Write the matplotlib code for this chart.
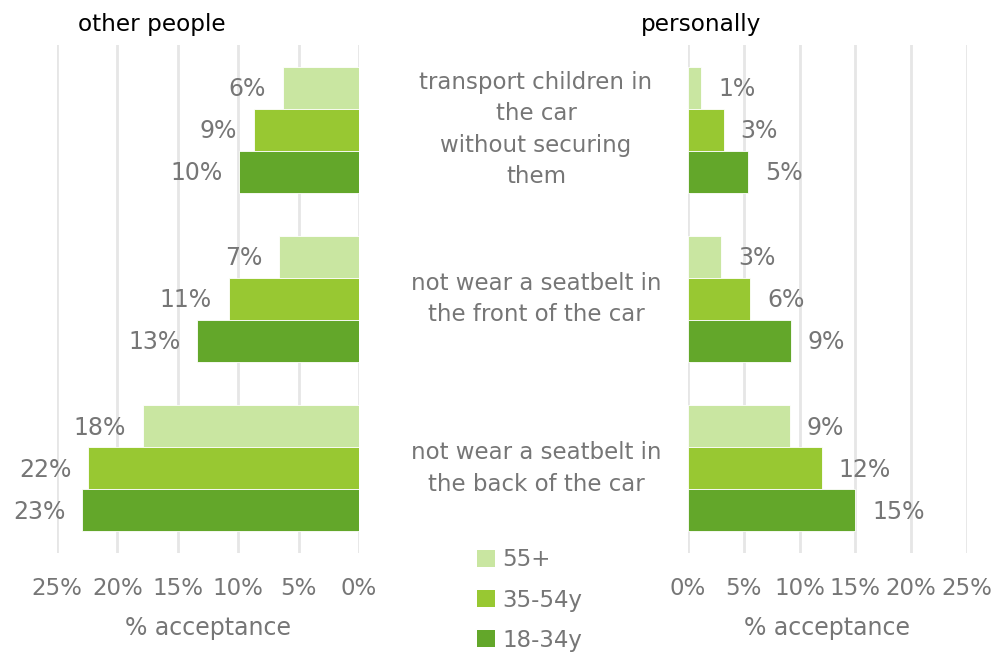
import numpy as np
import matplotlib.pyplot as plt
import matplotlib.transforms as mtransforms
from matplotlib.patches import Patch

# acceptance shares (%), per behaviour, per age group
behaviours = ["transport children in\nthe car\nwithout securing\nthem",
              "not wear a seatbelt in\nthe front of the car",
              "not wear a seatbelt in\nthe back of the car"]
age_groups = ["55+", "35-54y", "18-34y"]
colors = ["#C9E6A1", "#98C832", "#63A72A"]

other_55 = [6.3, 6.6, 17.9]
other_35 = [8.7, 10.8, 22.4]
other_18 = [9.9, 13.4, 22.9]

self_55 = [1.2, 3.0, 9.1]
self_35 = [3.2, 5.6, 12.0]
self_18 = [5.4, 9.2, 15.0]

other = [other_55, other_35, other_18]
personal = [self_55, self_35, self_18]

ticks = [0, 5, 10, 15, 20, 25]
gray = "#767676"

plt.rcParams['font.family'] = ['DejaVu Sans']

fig = plt.figure(figsize=(9.94, 6.52), dpi=100)
axL = fig.add_axes([57/994, 1 - 553/652, (359-57)/994, (553-45)/652])
axR = fig.add_axes([688/994, 1 - 553/652, (967-688)/994, (553-45)/652])

y = np.arange(len(behaviours))
h = 0.248
offsets = [-h, 0, h]

def draw(ax, data, inverted):
    side = -1 if inverted else 1
    for vals, off, c in zip(data, offsets, colors):
        ax.barh(y + off, vals, height=h, color=c, edgecolor="white", linewidth=0.6)
        for yi, v in zip(y + off, vals):
            ax.annotate(f"{round(v):.0f}%", (v, yi), xytext=(side * 12, -1),
                        textcoords="offset points", va="center",
                        ha="right" if inverted else "left",
                        color=gray, fontsize=17)
    ax.set_xlim(0, 25)
    if inverted:
        ax.invert_xaxis()
    ax.set_ylim(2.5, -0.5)
    ax.set_xticks(ticks)
    ax.set_xticklabels([f"{t}%" for t in ticks])
    ax.set_yticks([])
    ax.grid(axis="x", color="#E6E6E6", linewidth=2)
    ax.set_axisbelow(True)
    for s in ax.spines.values():
        s.set_visible(False)
    ax.tick_params(axis="x", length=0, pad=17, labelsize=16.5, labelcolor=gray)
    ax.set_xlabel("% acceptance", fontsize=17, color=gray, labelpad=12)

draw(axL, other, True)
draw(axR, personal, False)

fig.text(152/994, 1 - 25/652, "other people", ha="center", va="center", fontsize=16.7, color="black")
fig.text(701/994, 1 - 25/652, "personally", ha="center", va="center", fontsize=16.7, color="black")

# behaviour labels in the middle column
trans = mtransforms.blended_transform_factory(fig.transFigure, axL.transData)
for yi, txt in zip(y, behaviours):
    fig.text(536/994, yi, txt, transform=trans, ha="center", va="center",
             fontsize=16.5, color=gray, linespacing=1.47)

handles = [Patch(facecolor=c, edgecolor="none") for c in colors]
fig.legend(handles, age_groups, loc="center", bbox_to_anchor=(530/994, 1 - 600/652),
           frameon=False, fontsize=16.5, labelcolor=gray, handlelength=0.75, handleheight=0.75,
           handletextpad=0.35, labelspacing=0.75)

fig.savefig("out.png", dpi=100)
